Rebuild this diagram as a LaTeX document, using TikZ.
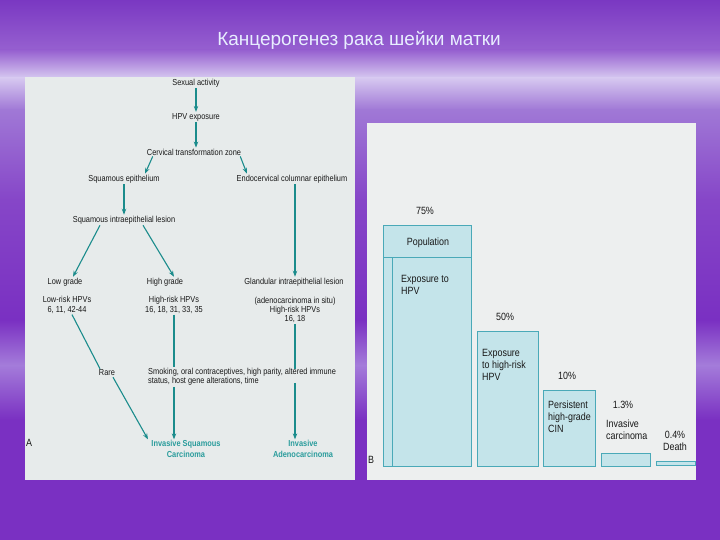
\documentclass[tikz,border=0pt]{standalone}
\usepackage{fontspec}
\setmainfont{Liberation Sans}
\newfontfamily\nar[FakeStretch=0.85]{Liberation Sans}
\usetikzlibrary{arrows.meta}
\definecolor{arrowT}{HTML}{1B8C8C}
\definecolor{finT}{HTML}{2A9C9C}
\definecolor{barF}{HTML}{C4E4EA}
\definecolor{barB}{HTML}{4AA9B8}
\definecolor{panA}{HTML}{E7EBEB}
\definecolor{panB}{HTML}{EDEFEF}
\definecolor{p1}{HTML}{7A38C2}
\definecolor{p2}{HTML}{9660D0}
\definecolor{p3}{HTML}{D6C8F0}
\definecolor{p4}{HTML}{A078D6}
\definecolor{p5}{HTML}{8646C8}
\definecolor{p6}{HTML}{7A30C2}
\definecolor{p7}{HTML}{A47CDA}
\definecolor{titleC}{HTML}{E8EEFF}
\begin{document}
\begin{tikzpicture}[x=1pt,y=-1pt,
  t/.style={font=\nar\fontsize{8.7}{9.4}\selectfont, inner sep=1pt, text=black!90, align=center},
  fin/.style={font=\nar\bfseries\fontsize{8.7}{10.5}\selectfont, text=finT, align=center, inner sep=1pt},
  ar/.style={draw=arrowT, line width=1.1pt, -{Stealth[length=6pt,width=4.5pt]}},
  ln/.style={draw=arrowT, line width=1.1pt},
  bt/.style={font=\nar\fontsize{10.5}{12}\selectfont, inner sep=1pt, text=black!90},
  btl/.style={bt, align=left, anchor=north west},
  bar/.style={draw=barB, fill=barF, line width=0.9pt}]
\useasboundingbox (0,0) rectangle (720,540);
% background
\fill[top color=p1, bottom color=p2] (0,0) rectangle (720,50);
\fill[top color=p2, bottom color=p3] (0,50) rectangle (720,78);
\fill[top color=p3, bottom color=p4] (0,78) rectangle (720,110);
\fill[top color=p4, bottom color=p5] (0,110) rectangle (720,200);
\fill[top color=p5, bottom color=p6] (0,200) rectangle (720,320);
\fill[top color=p6, bottom color=p7] (0,320) rectangle (720,365);
\fill[top color=p7, bottom color=p6] (0,365) rectangle (720,420);
\fill[p6] (0,420) rectangle (720,540);
% title
\node[font=\fontsize{19}{22}\selectfont, text=titleC] (title) at (359,40) {Канцерогенез рака шейки матки};
% panels
\fill[panA] (25,77) rectangle (355,480);
\fill[panB] (367,123) rectangle (696,480);
% panel A nodes
\node[t] (sex) at (196,83) {Sexual activity};
\node[t] (hpv) at (196,117) {HPV exposure};
\node[t] (ctz) at (194,152) {Cervical transformation zone};
\node[t] (sq) at (124,179) {Squamous epithelium};
\node[t] (endo) at (292,179) {Endocervical columnar epithelium};
\node[t] (sil) at (124,220) {Squamous intraepithelial lesion};
\node[t] (low) at (65,282) {Low grade};
\node[t] (high) at (165,282) {High grade};
\node[t] (gil) at (294,282) {Glandular intraepithelial lesion};
\node[t] (lrisk) at (67,305) {Low-risk HPVs\\6, 11, 42-44};
\node[t] (hrisk) at (174,305) {High-risk HPVs\\16, 18, 31, 33, 35};
\node[t] (arisk) at (295,310) {(adenocarcinoma in situ)\\High-risk HPVs\\16, 18};
\node[t] (rare) at (107,373) {Rare};
\node[t, align=left, anchor=west] (smk) at (147,377) {Smoking, oral contraceptives, high parity, altered immune\\status, host gene alterations, time};
\node[fin] (isc) at (186,449) {Invasive Squamous\\Carcinoma};
\node[fin] (iad) at (303,449) {Invasive\\Adenocarcinoma};
\node[font=\nar\fontsize{10.5}{12}\selectfont, text=black!90] (lA) at (29,443) {A};
% connectors
\coordinate (hx) at (174,0);
\coordinate (gx) at (295,0);
\coordinate (tx) at (196,0);
\draw[ar] (sex.south -| tx) -- (hpv.north -| tx);
\draw[ar] (hpv.south -| tx) -- (ctz.north -| tx);
\draw[ar] ([xshift=7pt]ctz.south west) -- ([xshift=21pt]sq.north);
\draw[ar] ([xshift=-2pt]ctz.south east) -- ([xshift=-45pt]endo.north);
\draw[ar] (sq.south) -- (sil.north);
\draw[ar] (endo.south -| gx) -- (gil.north -| gx);
\draw[ar] ([xshift=-24pt]sil.south) -- ([xshift=8pt]low.north);
\draw[ar] ([xshift=19pt]sil.south) -- ([xshift=9pt]high.north);
\draw[ln] ([xshift=5pt]lrisk.south) -- ([xshift=-7pt]rare.north);
\draw[ar] ([xshift=6pt]rare.south) -- ([xshift=-38pt]isc.north);
\draw[ln] (hrisk.south -| hx) -- (smk.north -| hx);
\draw[ar] (smk.south -| hx) -- (isc.north -| hx);
\draw[ln] (arisk.south -| gx) -- ([yshift=-2pt]smk.north -| gx);
\draw[ar] ([yshift=4pt]smk.south -| gx) -- (iad.north -| gx);
% panel B bars
\draw[bar] (383,225) rectangle (471,466);
\draw[barB, line width=0.9pt] (383,257) -- (471,257);
\draw[barB, line width=0.6pt] (392,257) -- (392,466);
\draw[bar] (477,331) rectangle (538,466);
\draw[bar] (543,390) rectangle (595,466);
\draw[bar] (601,453) rectangle (650,466);
\draw[bar] (656,461) rectangle (695,465);
% panel B texts
\node[bt] (p75) at (425,211) {75\%};
\node[bt] (pop) at (428,243) {Population};
\node[btl] (e1) at (400,274) {Exposure to\\HPV};
\node[bt] (p50) at (505,317) {50\%};
\node[btl] (e2) at (481,348) {Exposure\\to high-risk\\HPV};
\node[bt] (p10) at (567,376) {10\%};
\node[btl] (e3) at (547,400) {Persistent\\high-grade\\CIN};
\node[bt] (p13) at (623,405) {1.3\%};
\node[btl] (e4) at (605,419) {Invasive\\carcinoma};
\node[bt, align=center] (e5) at (675,441) {0.4\%\\Death};
\node[bt] (lB) at (371,460) {B};
\end{tikzpicture}
\end{document}
